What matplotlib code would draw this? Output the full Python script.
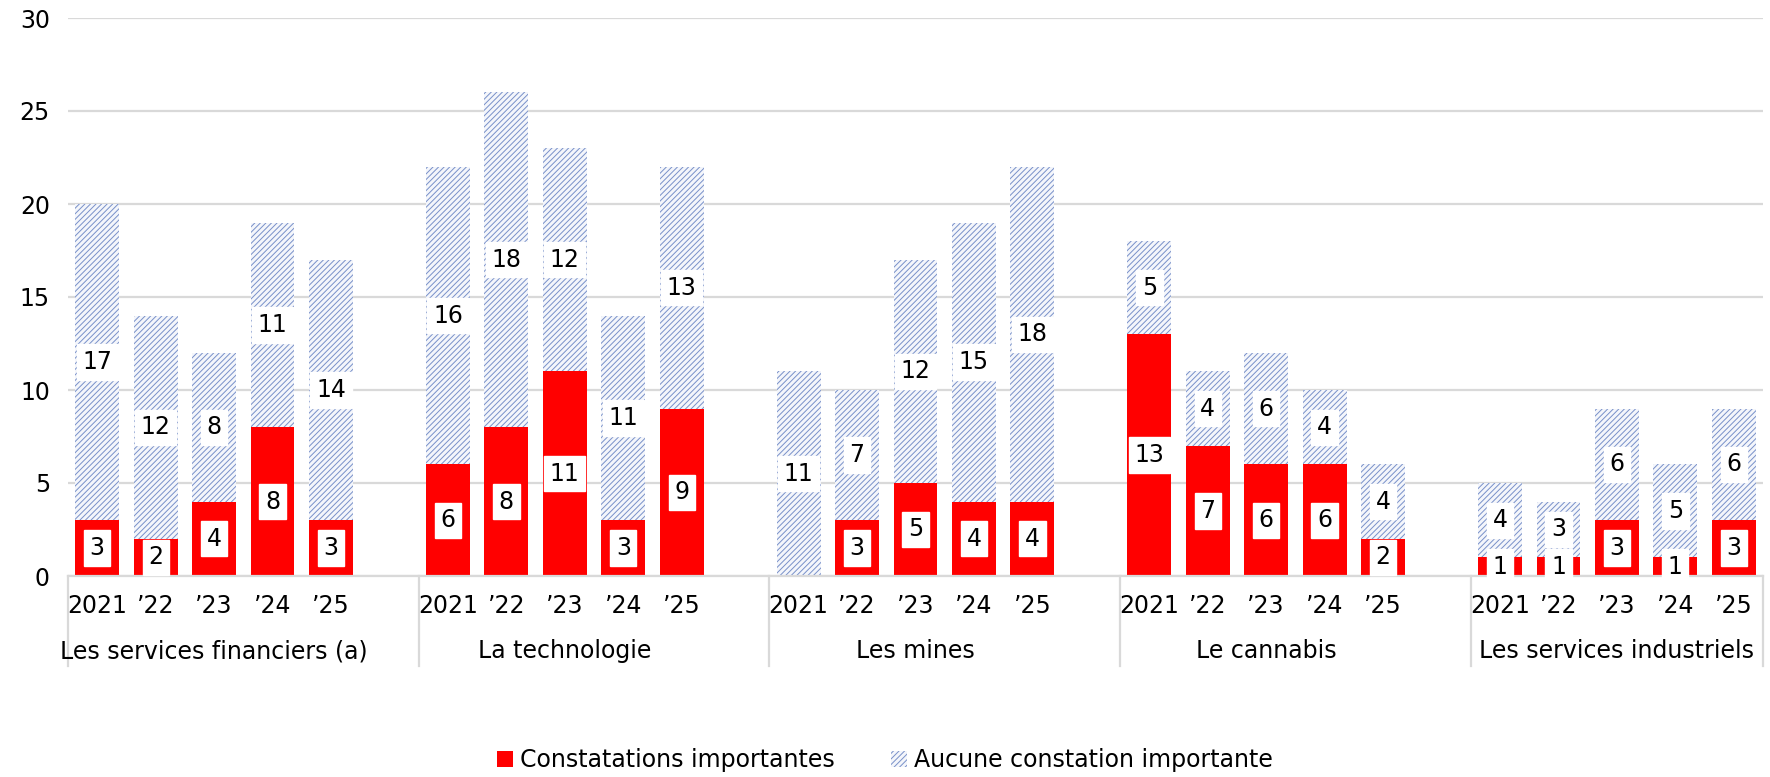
import matplotlib.pyplot as plt
import matplotlib.transforms as mtransforms
from matplotlib.patches import Patch

plt.rcParams["font.family"] = ["DejaVu Sans"]
plt.rcParams["hatch.linewidth"] = 0.7

groups = ["Les services financiers (a)", "La technologie", "Les mines",
          "Le cannabis", "Les services industriels"]
years = ["2021", "\u201922", "\u201923", "\u201924", "\u201925"]

# Constatations importantes (rouge)
red_fin = [3, 2, 4, 8, 3]
red_tech = [6, 8, 11, 3, 9]
red_mines = [0, 3, 5, 4, 4]
red_cann = [13, 7, 6, 6, 2]
red_ind = [1, 1, 3, 1, 3]

# Aucune constatation importante (bleu hachuré)
blue_fin = [17, 12, 8, 11, 14]
blue_tech = [16, 18, 12, 11, 13]
blue_mines = [11, 7, 12, 15, 18]
blue_cann = [5, 4, 6, 4, 4]
blue_ind = [4, 3, 6, 5, 6]

red = [red_fin, red_tech, red_mines, red_cann, red_ind]
blue = [blue_fin, blue_tech, blue_mines, blue_cann, blue_ind]

RED = "#ff0000"
BLUE = "#7890c9"
BLUE_BG = "#f4f6fb"
HATCH = "//////"
GRID = "#d9d9d9"
FS = 17

fig = plt.figure(figsize=(17.7, 7.77), dpi=100)
ax = fig.add_axes([68 / 1770, 1 - 576 / 777, (1763 - 68) / 1770, 558 / 777])

width = 0.75
xs, xlabels = [], []
box = dict(boxstyle="square,pad=0.24", fc="white", ec="white", lw=1.0)
for g in range(len(groups)):
    for i in range(len(years)):
        x = g * 6 + i
        r = red[g][i]
        b = blue[g][i]
        xs.append(x)
        xlabels.append(years[i])
        ax.bar(x, r, width, color=RED, zorder=2)
        ax.bar(x, b, width, bottom=r, facecolor=BLUE_BG, edgecolor=BLUE,
               hatch=HATCH, linewidth=0, zorder=2)
        if r > 0:
            ax.text(x, r / 2, str(r), ha="center", va="center", fontsize=FS,
                    bbox=box, zorder=3)
        ax.text(x, r + b / 2, str(b), ha="center", va="center", fontsize=FS,
                bbox=box, zorder=3)

ax.set_xlim(-0.5, 28.5)
ax.set_ylim(0, 30)
ax.set_yticks(range(0, 31, 5))
ax.yaxis.grid(True, color=GRID, linewidth=1.6, zorder=0)
ax.set_axisbelow(True)
ax.tick_params(axis="y", length=0, pad=13, labelsize=FS)
ax.set_xticks(xs)
ax.set_xticklabels(xlabels, fontsize=FS)
ax.tick_params(axis="x", length=0, pad=13)
for s in ["top", "right", "left"]:
    ax.spines[s].set_visible(False)
ax.spines["bottom"].set_color(GRID)
ax.spines["bottom"].set_linewidth(1.6)

trans = mtransforms.blended_transform_factory(ax.transData, ax.transAxes)
for sep in [-0.5, 5.5, 11.5, 17.5, 23.5, 28.5]:
    ax.plot([sep, sep], [0, -90 / 558], transform=trans, color=GRID,
            linewidth=1.6, clip_on=False)
for g, name in enumerate(groups):
    ax.text(g * 6 + 2, -75 / 558, name, transform=trans, ha="center",
            va="center", fontsize=FS)

handles = [Patch(facecolor=RED, label="Constatations importantes"),
           Patch(facecolor=BLUE_BG, edgecolor=BLUE, hatch=HATCH,
                 linewidth=0, label="Aucune constation importante")]
fig.legend(handles=handles, loc="center", bbox_to_anchor=(0.5, 1 - 760 / 777),
           ncol=2, frameon=False, fontsize=FS, handlelength=0.65,
           handleheight=0.65, handletextpad=0.3, columnspacing=2.4)

fig.savefig("out.png", dpi=100)
